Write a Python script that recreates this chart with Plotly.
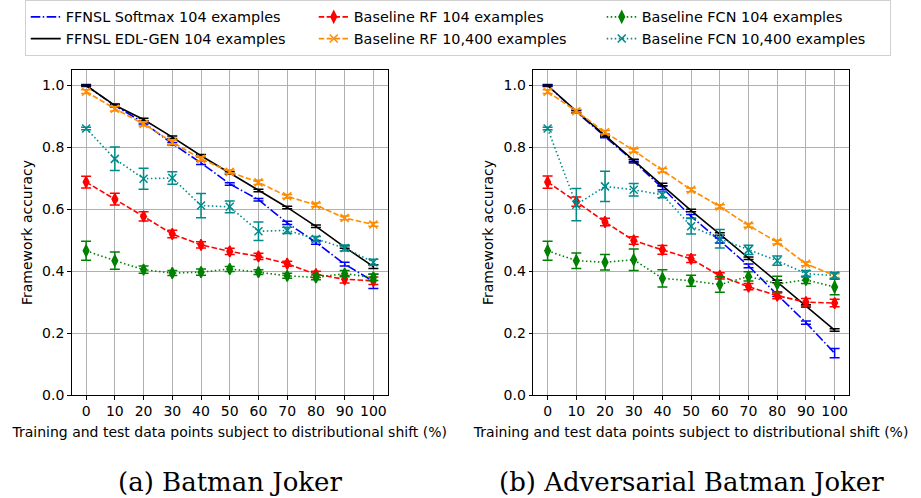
import plotly.graph_objects as go
from plotly.subplots import make_subplots

shift = [0, 10, 20, 30, 40, 50, 60, 70, 80, 90, 100]

# (a) Batman Joker
a_softmax = [1.0, 0.935, 0.88, 0.812, 0.75, 0.682, 0.631, 0.556, 0.493, 0.423, 0.367]
a_softmax_err = [0.003, 0.004, 0.004, 0.004, 0.005, 0.004, 0.004, 0.005, 0.006, 0.006, 0.023]
a_edl = [1.0, 0.936, 0.89, 0.833, 0.773, 0.717, 0.661, 0.606, 0.545, 0.478, 0.415]
a_edl_err = [0.002, 0.004, 0.004, 0.004, 0.004, 0.004, 0.004, 0.004, 0.004, 0.004, 0.006]
a_rf104 = [0.688, 0.633, 0.577, 0.52, 0.485, 0.464, 0.448, 0.424, 0.39, 0.374, 0.369]
a_rf104_err = [0.019, 0.019, 0.015, 0.012, 0.01, 0.01, 0.01, 0.008, 0.01, 0.012, 0.012]
a_rf10k = [0.98, 0.925, 0.876, 0.817, 0.763, 0.721, 0.687, 0.642, 0.614, 0.572, 0.551]
a_rf10k_err = [0.006, 0.007, 0.007, 0.007, 0.007, 0.006, 0.007, 0.006, 0.006, 0.006, 0.006]
a_fcn104 = [0.466, 0.434, 0.405, 0.394, 0.397, 0.407, 0.397, 0.385, 0.38, 0.392, 0.38]
a_fcn104_err = [0.031, 0.028, 0.012, 0.008, 0.01, 0.008, 0.008, 0.008, 0.008, 0.01, 0.01]
a_fcn10k = [0.861, 0.763, 0.699, 0.701, 0.612, 0.608, 0.529, 0.532, 0.504, 0.475, 0.429]
a_fcn10k_err = [0.004, 0.038, 0.034, 0.02, 0.039, 0.019, 0.03, 0.01, 0.008, 0.01, 0.01]

# (b) Adversarial Batman Joker
b_softmax = [1.0, 0.915, 0.835, 0.755, 0.669, 0.577, 0.499, 0.417, 0.324, 0.234, 0.135]
b_softmax_err = [0.003, 0.004, 0.004, 0.005, 0.006, 0.006, 0.008, 0.006, 0.006, 0.005, 0.015]
b_edl = [1.0, 0.917, 0.839, 0.758, 0.68, 0.596, 0.52, 0.442, 0.367, 0.288, 0.21]
b_edl_err = [0.002, 0.004, 0.004, 0.004, 0.004, 0.004, 0.004, 0.004, 0.004, 0.004, 0.004]
b_rf104 = [0.688, 0.625, 0.559, 0.499, 0.469, 0.44, 0.385, 0.35, 0.321, 0.3, 0.297]
b_rf104_err = [0.02, 0.015, 0.012, 0.012, 0.014, 0.012, 0.01, 0.01, 0.01, 0.012, 0.012]
b_rf10k = [0.98, 0.917, 0.849, 0.79, 0.726, 0.663, 0.609, 0.548, 0.494, 0.424, 0.386]
b_rf10k_err = [0.006, 0.006, 0.006, 0.006, 0.006, 0.006, 0.006, 0.006, 0.006, 0.006, 0.006]
b_fcn104 = [0.466, 0.434, 0.429, 0.437, 0.377, 0.369, 0.357, 0.383, 0.359, 0.372, 0.349]
b_fcn104_err = [0.031, 0.025, 0.025, 0.035, 0.028, 0.018, 0.025, 0.015, 0.025, 0.012, 0.025]
b_fcn10k = [0.861, 0.615, 0.674, 0.663, 0.647, 0.545, 0.505, 0.469, 0.434, 0.392, 0.386]
b_fcn10k_err = [0.004, 0.052, 0.049, 0.02, 0.01, 0.025, 0.03, 0.015, 0.015, 0.01, 0.01]

names = ["FFNSL Softmax 104 examples", "FFNSL EDL-GEN 104 examples",
         "Baseline RF 104 examples", "Baseline RF 10,400 examples",
         "Baseline FCN 104 examples", "Baseline FCN 10,400 examples"]
captions = ["(a) Batman Joker", "(b) Adversarial Batman Joker"]
x_title = "Training and test data points subject to distributional shift (%)"
y_title = "Framework accuracy"

colors = ["#0000ff", "#000000", "#ff0000", "#ff8c00", "#008000", "#008b8b"]
dashes = ["9.6px,2.4px,1.5px,2.4px", "solid", "5.5px,2.4px", "5.5px,2.4px",
          "1.5px,2.5px", "1.5px,2.5px"]
symbols = [None, None, "diamond-tall", "x-thin-open", "diamond-tall", "x-thin-open"]
ranks = [1, 4, 2, 5, 3, 6]

panels = [
    [(a_softmax, a_softmax_err), (a_edl, a_edl_err), (a_rf104, a_rf104_err),
     (a_rf10k, a_rf10k_err), (a_fcn104, a_fcn104_err), (a_fcn10k, a_fcn10k_err)],
    [(b_softmax, b_softmax_err), (b_edl, b_edl_err), (b_rf104, b_rf104_err),
     (b_rf10k, b_rf10k_err), (b_fcn104, b_fcn104_err), (b_fcn10k, b_fcn10k_err)],
]

fig = make_subplots(rows=1, cols=2)

for col, series in enumerate(panels, start=1):
    for i, (vals, errs) in enumerate(series):
        sym = symbols[i]
        if sym is None:
            mode = "lines"
            marker = dict(color=colors[i])
        else:
            mode = "lines+markers"
            marker = dict(symbol=sym, size=8, color=colors[i],
                          line=dict(color=colors[i], width=1.5))
        fig.add_trace(go.Scatter(
            x=shift, y=vals, name=names[i], mode=mode,
            line=dict(color=colors[i], width=1.6, dash=dashes[i]),
            marker=marker,
            error_y=dict(type="data", array=errs, visible=True,
                         color=colors[i], thickness=1.5, width=5),
            showlegend=(col == 1), legendrank=ranks[i],
        ), row=1, col=col)

tickfont = dict(family="DejaVu Sans", size=14, color="black")
for col in (1, 2):
    fig.update_xaxes(
        range=[-5, 105], tickmode="array", tickvals=shift,
        showgrid=True, gridcolor="#b0b0b0", gridwidth=1,
        showline=True, linecolor="black", linewidth=1.2, mirror=True,
        ticks="outside", ticklen=3.5, tickcolor="black",
        tickfont=tickfont, zeroline=False,
        title=dict(text=x_title, font=dict(family="DejaVu Sans", size=14, color="black"), standoff=8),
        row=1, col=col)
    fig.update_yaxes(
        range=[0, 1.05], tickmode="array", tickvals=[0, 0.2, 0.4, 0.6, 0.8, 1.0],
        tickformat=".1f",
        showgrid=True, gridcolor="#b0b0b0", gridwidth=1,
        showline=True, linecolor="black", linewidth=1.2, mirror=True,
        ticks="outside", ticklen=3.5, tickcolor="black",
        tickfont=tickfont, zeroline=False,
        title=dict(text=y_title, font=dict(family="DejaVu Sans", size=14, color="black"), standoff=6),
        row=1, col=col)

fig.update_layout(
    width=921, height=498,
    margin=dict(l=0, r=0, t=0, b=0, autoexpand=False),
    paper_bgcolor="white", plot_bgcolor="white",
    font=dict(family="DejaVu Sans", size=14, color="black"),
    xaxis=dict(domain=[0.0779, 0.4210]),
    xaxis2=dict(domain=[0.5790, 0.9218]),
    yaxis=dict(domain=[0.2068, 0.8594]),
    yaxis2=dict(domain=[0.2068, 0.8594]),
    legend=dict(orientation="h", x=0.497, xanchor="center", y=1.0, yanchor="top",
                bgcolor="white", bordercolor="#d0d0d0", borderwidth=1,
                entrywidth=243, font=dict(family="DejaVu Sans", size=14.4, color="black"),
                itemwidth=30, tracegroupgap=0),
    showlegend=True,
)

for i, cap in enumerate(captions):
    fig.add_annotation(text=cap, xref="paper", yref="paper",
                       x=[0.2495, 0.7504][i], y=0.033, xanchor="center", yanchor="middle",
                       showarrow=False, font=dict(family="DejaVu Serif", size=26, color="black"))

fig.write_html("out.html", config={"displayModeBar": False},
               post_script="document.body.style.margin='0px';")
